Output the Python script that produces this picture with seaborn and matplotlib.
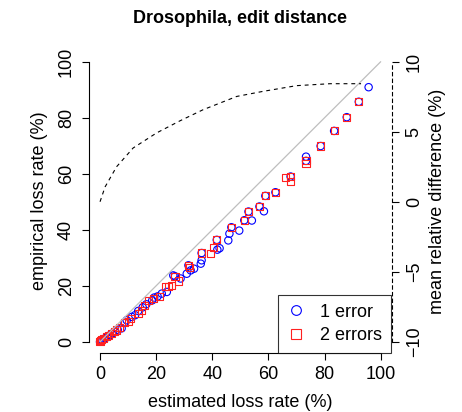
import matplotlib
matplotlib.use("Agg")
import matplotlib.pyplot as plt
from matplotlib.lines import Line2D
import pandas as pd
import seaborn as sns

# ---- data ----
est_1err = [0, 0.3, 0.8, 1.3, 1.8, 2.6, 3.6, 4.5, 5.3, 6.3, 7.7, 8.7, 9.5, 11.3, 12.5,
            13.6, 15.2, 16.5, 18.6, 19.3, 20.5, 22.0, 23.8, 26.1, 26.7, 28.7, 30.9, 31.5, 32.3, 33.5,
            35.9, 36.2, 36.2, 41.6, 41.8, 42.6, 45.7, 46.1, 46.8, 49.6, 51.4, 52.9, 54.1, 56.8, 58.4,
            58.9, 62.5, 67.9, 73.4, 73.4, 78.6, 83.4, 87.9, 92.2, 95.7]
emp_1err = [0, 0.3, 0.6, 1.0, 1.2, 1.8, 2.4, 3.0, 3.6, 4.3, 4.8, 6.8, 7.7, 8.9, 9.5,
            11.0, 12.3, 13.4, 14.8, 15.8, 16.2, 17.2, 17.8, 23.7, 23.4, 22.6, 24.3, 27.3, 25.5, 26.1,
            27.9, 29.1, 31.7, 36.4, 32.9, 33.4, 36.2, 38.6, 40.9, 39.7, 43.4, 46.5, 43.3, 48.3, 46.6,
            52.1, 53.4, 59.0, 66.1, 64.6, 69.9, 75.3, 80.2, 85.7, 90.9]
est_2err = [0, 0.3, 0.6, 1.2, 2.4, 3.0, 4.2, 5.0, 5.9, 7.1, 8.7, 10.1, 10.8, 13.6, 14.8,
            16.0, 17.2, 19.0, 21.1, 23.2, 24.3, 25.5, 26.7, 27.9, 31.5, 31.8, 36.2, 39.4, 40.4, 41.6,
            46.8, 51.4, 52.9, 56.8, 58.9, 62.5, 66.0, 67.9, 67.9, 73.4, 73.4, 78.6, 83.4, 87.9, 92.2]
emp_2err = [0.2, 0.4, 0.9, 1.3, 1.8, 2.4, 3.0, 3.7, 4.2, 5.1, 6.8, 7.1, 8.2, 10.1, 11.3,
            13.1, 14.6, 15.5, 16.3, 19.6, 19.6, 20.2, 23.4, 21.7, 27.3, 26.6, 31.7, 31.5, 33.8, 36.4,
            40.9, 43.4, 46.5, 48.3, 52.1, 53.4, 58.7, 59.0, 57.3, 64.6, 63.7, 69.9, 75.3, 80.2, 85.7]
curve_x = [0, 1.8, 5.9, 11.8, 20.2, 28.5, 36.7, 48.7, 58.0, 70.0, 82.0, 93.0]
curve_y = [0, 1.06, 2.5, 3.84, 4.92, 5.78, 6.57, 7.52, 7.88, 8.29, 8.43, 8.43]
diag = [0, 100]
xticks = [0, 20, 40, 60, 80, 100]
yticks = [0, 20, 40, 60, 80, 100]
rticks = [-10, -5, 0, 5, 10]
labels = ["1 error", "2 errors"]

sns.set_style("white")
plt.rcParams['font.family'] = ['Liberation Sans', 'DejaVu Sans']
plt.rcParams['axes.unicode_minus'] = True
for k in ['text.color', 'axes.labelcolor', 'xtick.color', 'ytick.color']:
    plt.rcParams[k] = 'black'
FS = 13
BLUE = '#0000FF'
RED = '#FF2020'

fig = plt.figure(figsize=(4.62, 4.12), dpi=100)
ax = fig.add_axes([0.1922, 0.1432, 0.6561, 0.7342])
ax.set_xlim(-4, 104)
ax.set_ylim(-4, 104)

sns.lineplot(x=diag, y=diag, color='#BEBEBE', linewidth=0.9, ax=ax)

d1 = pd.DataFrame({"est": est_1err, "emp": emp_1err})
d2 = pd.DataFrame({"est": est_2err, "emp": emp_2err})
sns.scatterplot(data=d1, x="est", y="emp", marker='o', s=28, ax=ax)
pc1 = ax.collections[-1]
pc1.set_facecolor('none'); pc1.set_edgecolor(BLUE); pc1.set_linewidth(0.8)
sns.scatterplot(data=d2, x="est", y="emp", marker='s', s=26, ax=ax)
pc2 = ax.collections[-1]
pc2.set_facecolor('none'); pc2.set_edgecolor(RED); pc2.set_linewidth(0.8)

for s in ['top', 'right']:
    ax.spines[s].set_visible(False)
for s in ['left', 'bottom']:
    ax.spines[s].set_color('black')
    ax.spines[s].set_linewidth(0.8)
ax.spines['left'].set_bounds(0, 100)
ax.spines['bottom'].set_bounds(0, 100)
ax.set_xticks(xticks)
ax.set_yticks(yticks)
ax.set_xticklabels([str(t) for t in xticks])
ax.set_yticklabels([str(t) for t in yticks], rotation=90, va='center')
ax.tick_params(axis='both', which='both', direction='out', length=5, width=0.8,
               color='black', labelcolor='black', labelsize=FS, left=True, bottom=True)
ax.tick_params(axis='x', pad=4)
ax.tick_params(axis='y', pad=5)

ax.set_xlabel("estimated loss rate (%)", fontsize=FS, color='black')
ax.set_ylabel("empirical loss rate (%)", fontsize=FS, color='black')
ax.xaxis.set_label_coords(0.499, -0.165)
ax.xaxis.label.set_va('center')
ax.yaxis.set_label_coords(-0.161, 0.502)
ax.yaxis.label.set_va('center')

ax2 = ax.twinx()
ax2.set_ylim(-10.8, 10.8)
sns.lineplot(x=curve_x, y=curve_y, color='black', linewidth=0.8,
             linestyle=(0, (3.5, 3.5)), ax=ax2)
for s in ['top', 'left', 'bottom']:
    ax2.spines[s].set_visible(False)
ax2.spines['right'].set_bounds(-10, 10)
ax2.spines['right'].set_linestyle((0, (3, 3)))
ax2.spines['right'].set_linewidth(0.8)
ax2.spines['right'].set_color('black')
ax2.set_yticks(rticks)
ax2.set_yticklabels(["\u221210", "\u22125", "0", "5", "10"], rotation=90, va='center')
ax2.tick_params(axis='y', direction='out', length=5, width=0.8, color='black',
                labelcolor='black', labelsize=FS, right=True, pad=5)
ax2.set_ylabel("mean relative difference (%)", fontsize=FS, rotation=90, color='black')
ax2.yaxis.set_label_coords(1.152, 0.502)
ax2.yaxis.label.set_va('center')

ax.set_title("Drosophila, edit distance", fontsize=FS, fontweight='bold',
             y=1.107, va='center', pad=0, color='black')

handles = [Line2D([], [], marker='o', linestyle='none', markerfacecolor='none',
                  markeredgecolor=BLUE, markersize=7, markeredgewidth=0.8),
           Line2D([], [], marker='s', linestyle='none', markerfacecolor='none',
                  markeredgecolor=RED, markersize=7, markeredgewidth=0.8)]
leg = ax2.legend(handles, labels, loc='lower right', bbox_to_anchor=(0.997, 0.0),
                 fontsize=FS, frameon=True, fancybox=False, edgecolor='black',
                 borderpad=0.5, handletextpad=0.9, labelspacing=0.35, handlelength=0.9,
                 borderaxespad=0, labelcolor='black')
leg.get_frame().set_linewidth(0.8)

fig.savefig("out.png", dpi=100)
